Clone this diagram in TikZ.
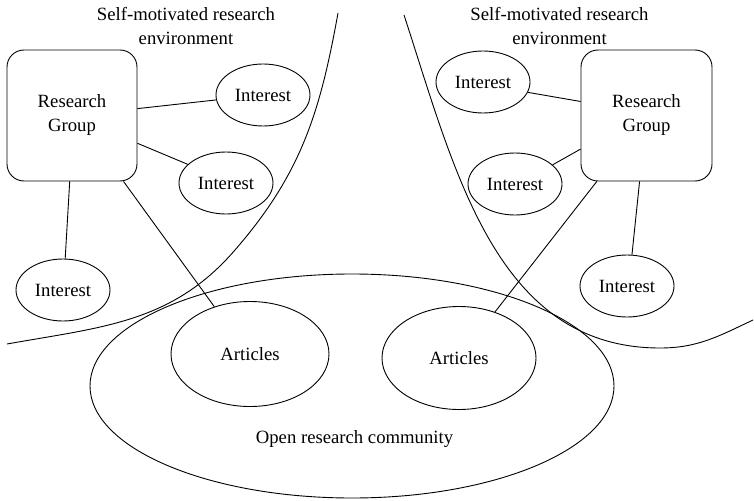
\documentclass[tikz,border=0pt]{standalone}
\usepackage{fontspec}
\setmainfont{Liberation Serif}
\usetikzlibrary{shapes.geometric}
\begin{document}
\begin{tikzpicture}[x=1pt,y=-1pt,
  every node/.style={font=\fontsize{18.7}{24}\selectfont},
  line/.style={draw=black,line width=0.9pt},
  group/.style={line, rectangle, rounded corners=17pt, minimum width=130pt,
    minimum height=131pt, align=center, inner sep=0pt},
  oval/.style={line, ellipse, inner sep=0pt},
  interest/.style={oval, minimum width=94pt, minimum height=62pt},
  article/.style={oval, minimum width=158pt, minimum height=105pt},
  caption/.style={anchor=base, inner sep=0pt}]
\useasboundingbox (0,0) rectangle (754,500);

% the two research environments
\draw[line] (338,13) .. controls (320,113) and (301,174) .. (235,250)
                     .. controls (172,323) and (102,327) .. (7,344);
\draw[line] (404,15) .. controls (455,171) and (496,348) .. (660,348)
                     .. controls (698,348) and (719,336) .. (753,320);

% open community
\node[oval, minimum width=524pt, minimum height=224pt] (community) at (352,386) {};
\node[caption] (communitytext) at (354.5,443) {Open research community};

% captions of the environments
\node[caption] (lcap1) at (186,21) {Self-motivated research};
\node[caption] (lcap2) at (186,45) {environment};
\node[caption] (rcap1) at (559.5,21) {Self-motivated research};
\node[caption] (rcap2) at (559.5,45) {environment};

% left group
\node[group] (lrg) at (72,115.5) {Research\\Group};
\node[interest] (li1) at (263,95) {Interest};
\node[interest] (li2) at (226,183) {Interest};
\node[interest] (li3) at (63,290) {Interest};
\node[article] (lart) at (250,354) {Articles};

% right group
\node[group, minimum width=131pt] (rrg) at (646.5,115.5) {Research\\Group};
\node[interest] (ri1) at (483,82) {Interest};
\node[interest] (ri2) at (515,184) {Interest};
\node[interest] (ri3) at (627,286) {Interest};
\node[article, minimum width=154pt, minimum height=103pt] (rart) at (459,358) {Articles};

% links
\draw[line] (lrg.6.6) -- (li1.186);
\draw[line] (lrg.-23.7) -- (li2.154);
\draw[line] (lrg.-92.6) -- (li3.86);
\draw[line] (lrg.-52.8) -- (lart.127);

\draw[line] (ri1.-13.4) -- (rrg.168.4);
\draw[line] (ri2.27) -- (rrg.207.8);
\draw[line] (rrg.-96.5) -- (ri3.81);
\draw[line] (rrg.-127.5) -- (rart.52);
\end{tikzpicture}
\end{document}
